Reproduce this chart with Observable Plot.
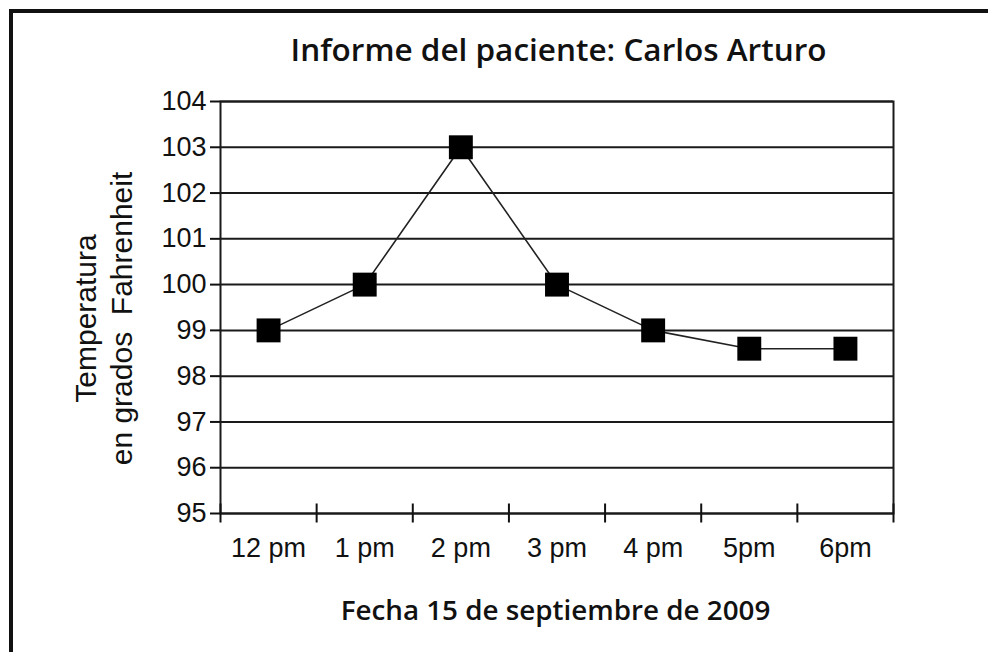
<!DOCTYPE html>
<html><head><meta charset="utf-8">
<script src="https://cdn.jsdelivr.net/npm/d3@7"></script>
<script src="https://cdn.jsdelivr.net/npm/@observablehq/plot@0.6"></script>
<style>
html,body{margin:0;padding:0;background:#fff;}
#wrap{position:relative;width:988px;height:652px;overflow:hidden;background:#fff;}
#border{position:absolute;left:9px;top:9px;width:1200px;height:900px;border-top:4px solid #111;border-left:4px solid #111;}
#chart{position:absolute;left:0;top:0;}
</style></head><body>
<div id="wrap"><div id="border"></div><div id="chart"></div></div>
<script>
const hours = ["12 pm","1 pm","2 pm","3 pm","4 pm","5pm","6pm"];
const temps = [99,100,103,100,99,98.6,98.6];
const yTicks = [95,96,97,98,99,100,101,102,103,104];
const title = "Informe del paciente: Carlos Arturo";
const xTitle = "Fecha 15 de septiembre de 2009";
const yTitle = ["Temperatura","en grados\u00a0 Fahrenheit"];

const data = hours.map((h,i)=>({h, pos: i+0.5, t: temps[i]}));
const bounds = d3.range(0, hours.length+1);
const centers = hours.map((_, i) => i + 0.5);

// pick a font size so the text spans the width seen in the reference
const ctx = document.createElement("canvas").getContext("2d");
function fitSize(text, family, weight, target) {
  ctx.font = `${weight} 100px ${family}`;
  return 100 * target / ctx.measureText(text).width;
}
const headFont = "'Open Sans', Lato, sans-serif";
const titleSize = Math.min(33, fitSize(title, headFont, 600, 536));
const xTitleSize = Math.min(30, fitSize(xTitle, headFont, 600, 430));

const plot = Plot.plot({
  width: 988, height: 652,
  marginTop: 101, marginLeft: 220, marginRight: 95, marginBottom: 139,
  style: {fontFamily: "'Liberation Sans', Arial, sans-serif", color: "#111", background: "transparent", overflow: "visible"},
  x: {type: "linear", domain: [0, hours.length]},
  y: {domain: [95, 104]},
  marks: [
    Plot.gridY(yTicks, {stroke: "#1a1a1a", strokeOpacity: 1, strokeWidth: 2}),
    Plot.frame({stroke: "#1a1a1a", strokeWidth: 2}),
    Plot.axisY({ticks: yTicks, tickSize: 10, tickPadding: 4, fontSize: 27, label: null, strokeWidth: 2}),
    Plot.axisX({ticks: bounds, tickSize: 19, dy: -9.5, tickFormat: () => "", label: null, strokeWidth: 2}),
    Plot.axisX({ticks: centers, tickSize: 0, tickPadding: 24, tickFormat: d => hours[Math.floor(d)], fontSize: 27, label: null}),
    Plot.line(data, {x: "pos", y: "t", stroke: "#222", strokeWidth: 1.6}),
    Plot.dot(data, {x: "pos", y: "t", symbol: "square", r: 13.5, fill: "#000", stroke: null}),
    Plot.text([title], {frameAnchor: "top", dy: -41, dx: 1.5, lineAnchor: "bottom", fontSize: titleSize, fontFamily: headFont, fontWeight: 600, fill: "#111"}),
    Plot.text([xTitle], {frameAnchor: "bottom", dy: 106, dx: -1.5, lineAnchor: "bottom", fontSize: xTitleSize, fontFamily: headFont, fontWeight: 600, fill: "#111"}),
    Plot.text([yTitle.join("\n")], {frameAnchor: "left", textAnchor: "middle", dx: -89, dy: 11, rotate: -90, lineAnchor: "bottom", lineHeight: 1.2, fontSize: 30, fill: "#111"})
  ]
});
document.getElementById("chart").appendChild(plot);
</script>
</body></html>
